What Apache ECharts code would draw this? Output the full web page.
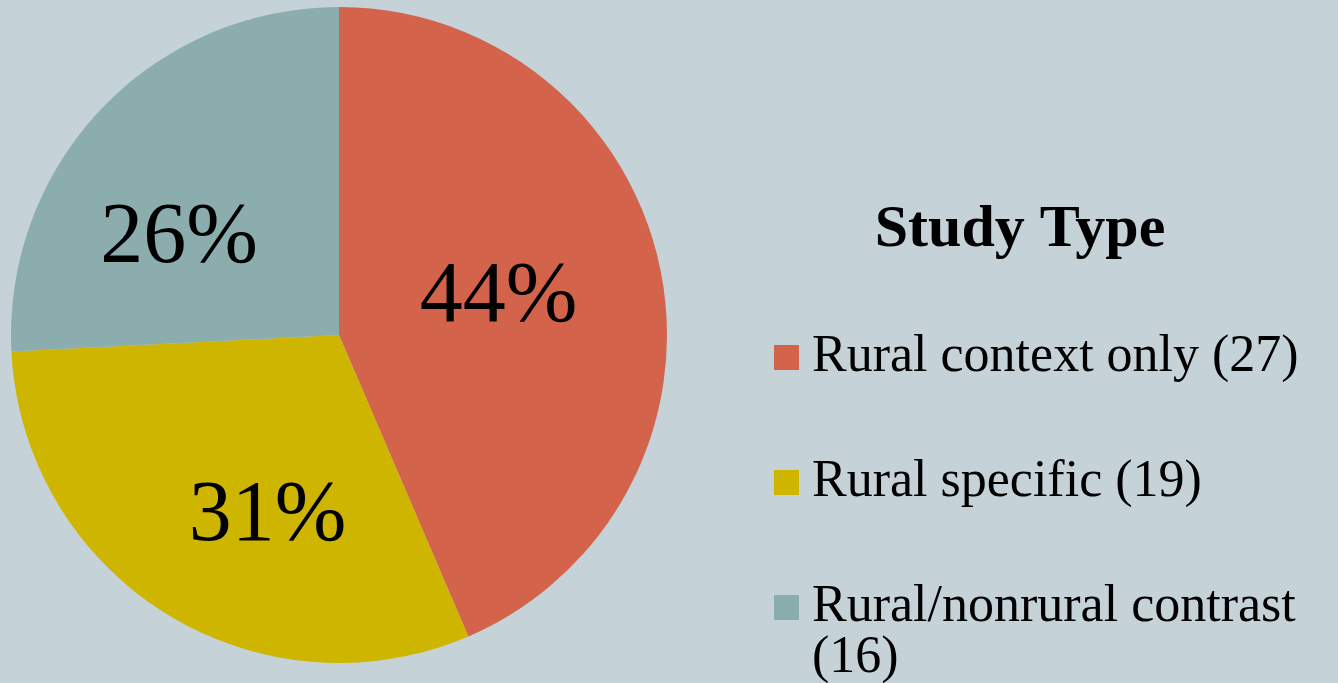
<!DOCTYPE html>
<html>
<head>
<meta charset="utf-8">
<script src="https://cdn.jsdelivr.net/npm/echarts@6/dist/echarts.min.js"></script>
<style>
html,body{margin:0;padding:0;background:#C5D2D8;}
#chart{width:1338px;height:683px;}
</style>
</head>
<body>
<div id="chart"></div>
<script>
const categories = ['Rural context only', 'Rural specific', 'Rural/nonrural contrast'];
const counts = [27, 19, 16];
const percentLabels = ['44%', '31%', '26%'];
const legendTitle = 'Study Type';
const colors = ['#D3644B', '#CEB500', '#8BADAE'];

const FONT = '"Liberation Serif", "Times New Roman", serif';
const labelShift = [[-4, -3], [17, 41], [-39, 19]];
const LH = 51;

const chart = echarts.init(document.getElementById('chart'), null, {renderer: 'canvas'});

function legendFor(i, top) {
  return {
    orient: 'vertical',
    left: 774,
    top: top,
    padding: 0,
    icon: 'rect',
    itemWidth: 25,
    itemHeight: 25,
    symbolKeepAspect: false,
    selectedMode: false,
    data: [categories[i]],
    formatter: function (name) {
      const k = categories.indexOf(name);
      // wrapped like the reference; a leading blank line keeps the first line level with the marker
      if (k === 2) return '\nRural/nonrural contrast\n(' + counts[k] + ')';
      return name + ' (' + counts[k] + ')';
    },
    textStyle: {
      fontFamily: FONT,
      fontSize: 52,
      color: '#000',
      lineHeight: LH,
      padding: [0, 0, 0, 8]
    }
  };
}

const option = {
  backgroundColor: '#C5D2D8',
  animation: false,
  title: {
    text: legendTitle,
    left: 1015,
    textAlign: 'center',
    top: 195,
    textStyle: {
      fontFamily: FONT,
      fontWeight: 'bold',
      fontSize: 60,
      color: '#000'
    }
  },
  legend: [
    legendFor(0, 357 - LH / 2),
    legendFor(1, 482 - LH / 2),
    legendFor(2, 607 - 1.5 * LH)
  ],
  series: [{
    type: 'pie',
    center: [339, 335],
    radius: 328,
    startAngle: 90,
    clockwise: true,
    silent: true,
    label: {
      show: true,
      position: 'inside',
      formatter: function (p) { return percentLabels[p.dataIndex]; },
      fontFamily: FONT,
      fontSize: 86,
      color: '#000'
    },
    labelLine: {show: false},
    labelLayout: function (p) {
      return {dx: labelShift[p.dataIndex][0], dy: labelShift[p.dataIndex][1]};
    },
    itemStyle: {borderWidth: 0},
    data: categories.map(function (c, i) {
      return {name: c, value: counts[i], itemStyle: {color: colors[i]}};
    })
  }]
};
chart.setOption(option);
</script>
</body>
</html>
